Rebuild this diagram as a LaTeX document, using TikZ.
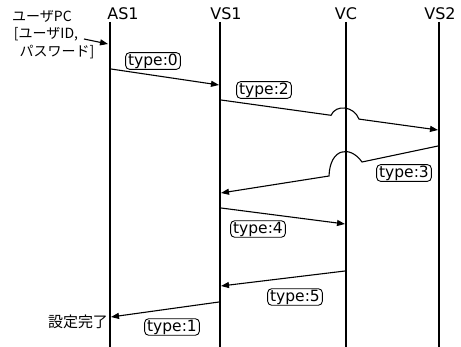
\documentclass[tikz,border=0pt]{standalone}
\usepackage{fontspec}
\setmainfont{DejaVu Sans}
\newfontfamily\jp{Noto Sans CJK JP}
\usetikzlibrary{arrows.meta}
\begin{document}
\begin{tikzpicture}[x=1pt,y=-1pt,
  lifeline/.style={line width=1.4pt},
  msg/.style={line width=1.1pt,-{Triangle[length=8pt,width=6pt]}},
  hdr/.style={font=\fontsize{16}{18}\selectfont,inner sep=0pt},
  tlabel/.style={draw,line width=0.9pt,rounded corners=4pt,inner xsep=2.5pt,inner ysep=1pt,font=\fontsize{15.5}{17}\selectfont},
  jlabel/.style={font=\jp\fontsize{14}{16}\selectfont,inner sep=0pt}]
\useasboundingbox (0,0) rectangle (461,347);
% headers
\node[hdr] (hAS1) at (123,14) {AS1};
\node[hdr] (hVS1) at (226,14) {VS1};
\node[hdr] (hVC) at (346,14) {VC};
\node[hdr] (hVS2) at (440,14) {VS2};
% lifelines
\coordinate (tAS1) at (110,22); \coordinate (bAS1) at (110,347);
\coordinate (tVS1) at (220,22); \coordinate (bVS1) at (220,347);
\coordinate (tVC) at (346,22); \coordinate (bVC) at (346,347);
\coordinate (tVS2) at (439,22); \coordinate (bVS2) at (439,347);
\draw[lifeline] (tAS1) -- (bAS1);
\draw[lifeline] (tVS1) -- (bVS1);
\draw[lifeline] (tVC) -- (bVC);
\draw[lifeline] (tVS2) -- (bVS2);
% left texts
\node[jlabel] (pc) at (42,16) {ユーザPC};
\node[jlabel] (uid) at (46,34) {[ユーザID,};
\node[jlabel] (pw) at (57,52) {パスワード]};
\coordinate (in0) at (84,39);
\coordinate (in1) at (108,44);
\draw[msg] (in0) -- (in1);
% type:0
\coordinate (m0s) at (111,69); \coordinate (m0e) at (219,85);
\draw[msg] (m0s) -- (m0e);
\node[tlabel] (l0) at (153,61) {type:0};
% type:2
\coordinate (m2s) at (221,100); \coordinate (m2a) at (331,115.3);
\coordinate (m2b) at (359,119.1); \coordinate (m2e) at (438,130);
\draw[msg] (m2s) -- (m2a) .. controls (336,104) and (354,106) .. (m2b) -- (m2e);
\node[tlabel] (l2) at (264,90) {type:2};
% type:3
\coordinate (m3s) at (438,146); \coordinate (m3a) at (362,162);
\coordinate (m3b) at (329,176); \coordinate (m3e) at (221,193);
\draw[msg] (m3s) -- (m3a) .. controls (350,145) and (330,148) .. (m3b) -- (m3e);
\node[tlabel] (l3) at (404,173) {type:3};
% type:4
\coordinate (m4s) at (221,208); \coordinate (m4e) at (345,224);
\draw[msg] (m4s) -- (m4e);
\node[tlabel] (l4) at (258,229) {type:4};
% type:5
\coordinate (m5s) at (345,271); \coordinate (m5e) at (221,286);
\draw[msg] (m5s) -- (m5e);
\node[tlabel] (l5) at (295,297) {type:5};
% type:1
\coordinate (m1s) at (219,302); \coordinate (m1e) at (111,317);
\draw[msg] (m1s) -- (m1e);
\node[tlabel] (l1) at (172,327) {type:1};
\node[font=\jp\fontsize{15}{17}\selectfont,inner sep=0pt] (done) at (78,322) {設定完了};
\end{tikzpicture}
\end{document}
